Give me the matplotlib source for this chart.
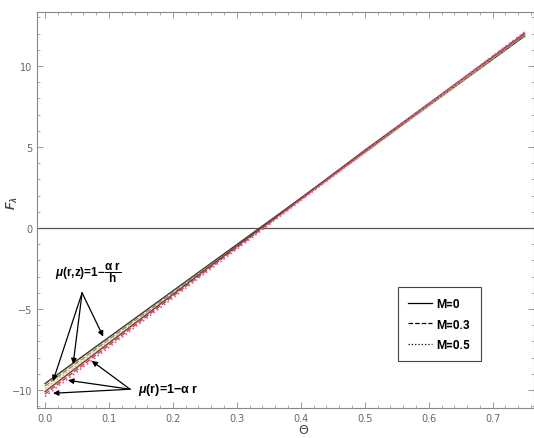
import numpy as np
import matplotlib.pyplot as plt
from matplotlib.ticker import MultipleLocator

plt.rcParams["mathtext.fontset"] = "custom"
plt.rcParams["mathtext.rm"] = "Liberation Sans:bold"
plt.rcParams["mathtext.it"] = "Liberation Sans:bold:italic"
plt.rcParams["mathtext.bf"] = "Liberation Sans:bold"

# values (lines are straight in Theta)
theta = [0.0, 0.25, 0.5, 0.75]

# mu(r,z) = 1 - alpha r / h
fz_m0 = [-9.6, -2.45, 4.7, 11.85]
fz_m03 = [-9.75, -2.55, 4.65, 11.9]
fz_m05 = [-9.9, -2.65, 4.6, 11.95]

# mu(r) = 1 - alpha r
fr_m0 = [-10.1, -2.6, 4.8, 12.0]
fr_m03 = [-10.25, -2.7, 4.75, 12.05]
fr_m05 = [-10.4, -2.8, 4.7, 12.1]

legend_labels = ["M=0", "M=0.3", "M=0.5"]

fig = plt.figure(figsize=(5.34, 4.39), dpi=100)
ax = fig.add_axes([0.0693, 0.0683, 0.93, 0.902])

# beige band between the two families
ax.fill_between(theta, fz_m0, fr_m0, color="#f2eed6", zorder=1)

ax.plot(theta, fz_m0, color="#3a3a30", linewidth=1.0, linestyle="-", zorder=3)
ax.plot(theta, fz_m03, color="#9a8c66", linewidth=1.0, linestyle="--", zorder=3)
ax.plot(theta, fz_m05, color="#c9bb8c", linewidth=1.0, linestyle=":", zorder=3)

ax.plot(theta, fr_m0, color="#7a3a3a", linewidth=1.0, linestyle="-", zorder=3)
ax.plot(theta, fr_m03, color="#c83a5a", linewidth=1.0, linestyle="--", zorder=3)
ax.plot(theta, fr_m05, color="#e05aa0", linewidth=1.2, linestyle=":", zorder=3)

ax.axhline(0, color="#555555", linewidth=0.9, zorder=2)

# legend entries (black, as in the reference)
handles = []
for ls, lab in zip(["-", "--", ":"], legend_labels):
    (h,) = ax.plot([], [], color="black", linestyle=ls, linewidth=0.9, label=lab)
    handles.append(h)
leg = ax.legend(handles=handles, loc="upper left", bbox_to_anchor=(0.726, 0.306),
                fancybox=False, framealpha=1, edgecolor="#444444",
                prop={"family": "Roboto", "weight": "bold", "size": 8.5},
                handlelength=2.0, handletextpad=0.4,
                borderpad=0.9, labelspacing=0.6, borderaxespad=0)
leg.get_frame().set_linewidth(0.8)

# annotations with arrows
arrow = dict(arrowstyle="-|>", color="black", lw=0.9, mutation_scale=8, shrinkA=0, shrinkB=0)
ax.text(0.015, -2.7, r"$\mu$(r,z)=1$-\dfrac{\mathrm{\alpha\ r}}{\mathrm{h}}$",
        fontsize=8.5, family="Liberation Sans", fontweight="bold", va="center")
for tx, ty in [(0.0125, -9.45), (0.044, -8.4), (0.091, -6.7)]:
    ax.annotate("", xy=(tx, ty), xytext=(0.058, -4.0), arrowprops=arrow)

ax.text(0.146, -9.95, r"$\mu$(r)=1$-\mathrm{\alpha}$ r", fontsize=9,
        family="Liberation Sans", fontweight="bold", va="center")
for tx, ty in [(0.073, -8.2), (0.036, -9.4), (0.0125, -10.2)]:
    ax.annotate("", xy=(tx, ty), xytext=(0.133, -9.95), arrowprops=arrow)

ax.set_xlim(-0.0125, 0.764)
ax.set_ylim(-11.11, 13.33)
ax.xaxis.set_minor_locator(MultipleLocator(0.02))
ax.yaxis.set_minor_locator(MultipleLocator(1))
ax.set_xticks([0.0, 0.1, 0.2, 0.3, 0.4, 0.5, 0.6, 0.7])
ax.set_xticklabels(["0.0", "0.1", "0.2", "0.3", "0.4", "0.5", "0.6", "0.7"])
ax.set_yticks([-10, -5, 0, 5, 10])
ax.tick_params(which="both", direction="in", top=True, right=True, color="#888888",
               labelcolor="#666666", labelsize=7)
ax.tick_params(which="major", length=4, width=0.6)
ax.tick_params(which="minor", length=2, width=0.5)
for sp in ax.spines.values():
    sp.set_color("#888888")
    sp.set_linewidth(0.8)

ax.set_xlabel("Θ", fontsize=9, color="#444444")
ax.xaxis.set_label_coords(0.535, -0.038)
ax.set_ylabel(r"$F_{\lambda}$", fontsize=9, color="#444444")
ax.yaxis.set_label_coords(-0.035, 0.52)

plt.savefig("out.png", dpi=100)
